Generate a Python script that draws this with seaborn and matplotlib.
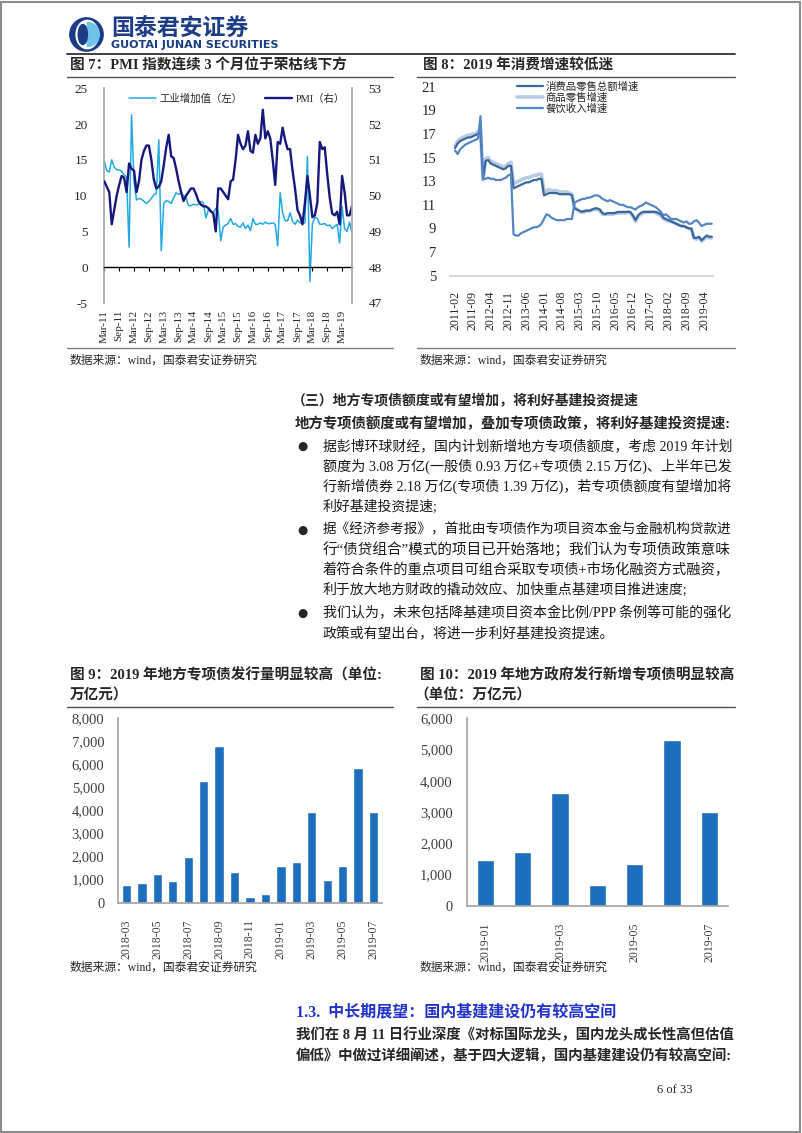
import matplotlib
matplotlib.use("Agg")
import matplotlib.pyplot as plt
import seaborn as sns
from matplotlib.lines import Line2D
from matplotlib.patches import Rectangle, Wedge, Ellipse, Circle
from matplotlib.ticker import FuncFormatter

# ---------------- data ----------------
# Fig 7: monthly, Mar-11 .. Jul-19
fig7_ticklabels = ["Mar-11", "Sep-11", "Mar-12", "Sep-12", "Mar-13", "Sep-13", "Mar-14",
                   "Sep-14", "Mar-15", "Sep-15", "Mar-16", "Sep-16", "Mar-17", "Sep-17",
                   "Mar-18", "Sep-18", "Mar-19"]
industrial_va = [14.8, 13.5, 13.3, 15.0, 14.0, 13.6, 13.6, 13.4, 12.9, 12.6,
                 2.8, 21.3, 11.9, 9.4, 9.6, 9.5, 9.2, 8.9, 9.2, 9.6,
                 10.1, 10.3, 17.8, 2.3, 8.9, 9.3, 9.2, 8.9, 9.7, 10.4,
                 10.2, 10.3, 10.0, 9.7, 8.6, 8.6, 8.8, 8.7, 8.8, 9.2,
                 9.0, 6.9, 8.0, 7.7, 7.6, 8.2, 7.9, 3.7, 5.6, 5.9,
                 6.1, 6.8, 6.0, 6.1, 5.7, 5.6, 6.2, 5.4, 5.9, 5.1,
                 6.8, 6.0, 6.0, 6.2, 6.0, 6.3, 6.1, 6.1, 6.2, 6.0,
                 3.0, 10.4, 7.6, 6.5, 6.5, 7.6, 6.4, 6.0, 6.6, 6.2,
                 6.1, 6.2, 15.5, -2.0, 6.0, 7.0, 6.8, 6.0, 6.0, 6.1,
                 5.8, 5.9, 5.4, 5.7, 6.0, 3.4, 8.5, 5.4, 5.0, 6.3,
                 4.8]
pmi = [50.4, 50.25, 50.1, 49.2, 49.6, 50.0, 50.3, 50.55, 50.5, 50.1,
       50.9, 50.75, 50.7, 50.1, 50.4, 51.0, 51.25, 51.4, 51.4, 51.0,
       50.45, 50.2, 50.25, 50.4, 50.85, 51.35, 51.7, 51.1, 51.05, 50.75,
       50.4, 50.1, 49.85, 50.0, 50.1, 50.2, 50.2, 50.05, 49.85, 49.75,
       49.7, 49.7, 49.65, 49.57, 49.5, 49.0, 50.2, 50.2, 50.1, 50.0,
       49.9, 50.4, 50.45, 51.0, 51.7, 51.45, 51.3, 51.4, 51.8, 51.25,
       51.2, 51.7, 51.45, 51.6, 52.4, 51.6, 51.8, 51.6, 51.0, 50.3,
       51.5, 51.45, 51.9, 51.55, 51.3, 51.3, 50.7, 50.2, 49.6, 49.45,
       49.2, 49.8, 50.55, 50.0, 49.4, 49.45, 49.8, 51.5, 51.3, 51.35,
       50.6, 49.95, 49.5, 49.45, 49.55, 49.2, 50.55, 50.1, 49.45, 49.45,
       49.7]

# Fig 8: monthly, 2011-02 .. 2019-07
fig8_ticklabels = ["2011-02", "2011-09", "2012-04", "2012-11", "2013-06", "2014-01",
                   "2014-08", "2015-03", "2015-10", "2016-05", "2016-12", "2017-07",
                   "2018-02", "2018-09", "2019-04"]
retail_goods = [16.0, 16.4, 16.6, 16.7, 16.8, 16.9, 16.9, 17.0, 17.0, 17.2,
                17.3, 13.1, 14.9, 15.0, 14.7, 14.6, 14.5, 14.4, 14.3, 14.2,
                14.3, 14.5, 14.6, 12.8, 12.9, 13.0, 13.1, 13.2, 13.3, 13.3,
                13.4, 13.5, 13.5, 13.6, 13.6, 12.1, 12.2, 12.3, 12.2, 12.2,
                12.2, 12.1, 12.1, 12.1, 12.1, 12.0, 11.9, 10.8, 10.6, 10.4,
                10.4, 10.4, 10.5, 10.5, 10.6, 10.6, 10.6, 10.5, 10.2, 10.2,
                10.2, 10.2, 10.2, 10.3, 10.3, 10.3, 10.3, 10.3, 10.4, 10.3,
                10.0, 9.6, 10.0, 10.2, 10.3, 10.4, 10.4, 10.4, 10.4, 10.3,
                10.2, 10.1, 9.8, 9.7, 9.6, 9.6, 9.5, 9.4, 9.3, 9.2,
                9.2, 9.1, 9.0, 8.9, 8.2, 8.1, 8.2, 7.9, 8.1, 8.3,
                8.2, 8.2]
retail_total = [15.8, 16.2, 16.4, 16.5, 16.6, 16.7, 16.7, 16.8, 16.9, 17.0,
                17.1, 13.2, 14.7, 14.8, 14.5, 14.4, 14.3, 14.2, 14.1, 14.0,
                14.1, 14.3, 14.3, 12.4, 12.5, 12.6, 12.7, 12.8, 12.9, 12.9,
                13.0, 13.1, 13.1, 13.2, 13.2, 11.8, 11.9, 12.0, 12.0, 12.0,
                12.0, 11.9, 11.9, 11.9, 11.9, 11.9, 11.8, 10.7, 10.6, 10.5,
                10.4, 10.5, 10.5, 10.5, 10.6, 10.7, 10.7, 10.6, 10.3, 10.2,
                10.3, 10.3, 10.3, 10.3, 10.4, 10.4, 10.4, 10.4, 10.4, 10.4,
                10.1, 9.7, 10.1, 10.3, 10.4, 10.4, 10.4, 10.4, 10.4, 10.4,
                10.3, 10.2, 9.9, 9.8, 9.7, 9.6, 9.5, 9.4, 9.3, 9.2,
                9.2, 9.1, 9.0, 9.0, 8.2, 8.2, 8.3, 8.0, 8.2, 8.4,
                8.3, 8.3]
catering = [15.6, 15.3, 15.7, 15.9, 16.1, 16.2, 16.3, 16.4, 16.5, 16.6,
            18.5, 13.2, 13.2, 13.3, 13.2, 13.2, 13.1, 13.1, 13.1, 13.2,
            13.3, 13.5, 13.6, 8.5, 8.4, 8.4, 8.6, 8.7, 8.8, 8.9,
            9.0, 9.1, 9.1, 9.2, 9.4, 9.8, 10.2, 10.1, 9.9, 9.8,
            9.7, 9.7, 9.7, 9.7, 9.8, 9.8, 9.8, 11.2, 11.3, 11.4,
            11.5, 11.5, 11.6, 11.6, 11.7, 11.8, 11.8, 11.7, 11.5, 11.4,
            11.3, 11.4, 11.3, 11.2, 11.1, 11.0, 11.0, 10.9, 10.8, 10.8,
            10.7, 10.6, 10.8, 10.9, 11.0, 11.2, 11.1, 11.0, 10.9, 10.8,
            10.6, 10.4, 10.1, 10.2, 10.0, 9.8, 9.8, 9.8, 9.7, 9.6,
            9.5, 9.6, 9.4, 9.4, 9.6, 9.7, 9.5, 9.2, 9.3, 9.4,
            9.4, 9.4]

# Fig 9
fig9_months = ["2018-03", "2018-04", "2018-05", "2018-06", "2018-07", "2018-08",
               "2018-09", "2018-10", "2018-11", "2018-12", "2019-01", "2019-02",
               "2019-03", "2019-04", "2019-05", "2019-06", "2019-07"]
special_bonds = [770, 840, 1230, 940, 1980, 5300, 6790, 1320, 230, 390,
                 1580, 1750, 3940, 970, 1610, 5850, 3950]
# Fig 10
fig10_months = ["2019-01", "2019-02", "2019-03", "2019-04", "2019-05", "2019-06", "2019-07"]
new_special_bonds = [1450, 1710, 3620, 670, 1340, 5290, 3010]

# ---------------- style ----------------
sns.set_theme(style="white")
FONTS = ['Liberation Serif', 'Noto Sans CJK SC', 'DejaVu Sans']
plt.rcParams['font.family'] = FONTS
plt.rcParams['axes.unicode_minus'] = False

C_IVA = "#22A9E2"
C_PMI = "#16187E"
C_TOT = "#3A679C"
C_GOO = "#B9CCE6"
C_CAT = "#5286C4"
C_BAR = "#1E6EBE"
C_AX = "#A6A6A6"
NAVY = "#1C3C86"

W, H = 802, 1133
fig = plt.figure(figsize=(W / 100, H / 100), dpi=100)
renderer = fig.canvas.get_renderer()


def box(x0, y0, x1, y1):
    return [x0 / W, 1 - y1 / H, (x1 - x0) / W, (y1 - y0) / H]


def ftext(x, y, s, **kw):
    kw.setdefault('va', 'center')
    kw.setdefault('ha', 'left')
    return fig.text(x / W, 1 - y / H, s, **kw)


def fit_text(x, y, s, width, size, **kw):
    """Left-aligned text scaled to fill a justified line width (pixels)."""
    t = ftext(x, y, s, fontsize=size, **kw)
    w = t.get_window_extent(renderer).width
    t.set_fontsize(size * width / w)
    return t


def hrule(x0, x1, y, color="#404040", lw=1.0):
    fig.add_artist(Line2D([x0 / W, x1 / W], [1 - y / H, 1 - y / H], color=color,
                          lw=lw, transform=fig.transFigure))


# page border
fig.add_artist(Rectangle((0.001, 0.001), 0.997, 0.997, transform=fig.transFigure,
                         fill=False, edgecolor="#8C8C8C", lw=1.5))

# ---------------- header ----------------
axl = fig.add_axes(box(69, 17, 104, 52))
axl.set_xlim(-1.05, 1.05)
axl.set_ylim(-1.05, 1.05)
axl.set_aspect('equal')
axl.axis('off')
axl.add_patch(Circle((0, 0), 1.0, color=NAVY))
axl.add_patch(Ellipse((0.05, 0), 1.35, 1.7, color="white"))
axl.add_patch(Wedge((0.05, 0), 0.72, -90, 90, color="#6EC3E8"))
axl.add_patch(Ellipse((-0.22, 0), 0.55, 1.2, color=NAVY))
ftext(111, 30, "国泰君安证券", fontsize=16.5, fontweight='bold', color=NAVY)
fit_text(111, 45.5, "GUOTAI JUNAN SECURITIES", 168, 6.5, fontweight='bold', color=NAVY,
         family=['DejaVu Sans'])
hrule(67, 735, 53.5, color="#303030", lw=1.3)

# ---------------- Fig 7 ----------------
ftext(70, 66, "图 7：PMI 指数连续 3 个月位于荣枯线下方", fontsize=10.5, fontweight='bold')
hrule(67, 393, 76.7, color="#505050", lw=1.0)
hrule(67, 393, 348.3, color="#808080", lw=1.0)
ftext(70, 361, "数据来源：wind，国泰君安证券研究", fontsize=8.5)

months7 = list(range(len(pmi)))
ax7 = fig.add_axes(box(104.3, 88.3, 352, 303))
sns.lineplot(x=months7, y=industrial_va, ax=ax7, color=C_IVA, lw=1.1, legend=False)
ax7b = ax7.twinx()
sns.lineplot(x=months7, y=pmi, ax=ax7b, color=C_PMI, lw=1.7, legend=False)
ax7.set_xlim(0, 100)
ax7.set_ylim(-5, 25)
ax7b.set_ylim(47, 53)
ax7.set_yticks(range(-5, 26, 5))
ax7b.set_yticks(range(47, 54))
for a in (ax7, ax7b):
    a.set_xlabel("")
    a.set_ylabel("")
    a.spines['top'].set_visible(False)
ax7.spines['right'].set_visible(False)
ax7b.spines['left'].set_visible(False)
ax7b.spines['bottom'].set_visible(False)
ax7.spines['left'].set_color(C_AX)
ax7b.spines['right'].set_color(C_AX)
ax7.spines['bottom'].set_position(('data', 0))
ax7.spines['bottom'].set_color('black')
ax7.spines['bottom'].set_linewidth(1.0)
ax7.set_xticks(range(0, 97, 6))
ax7.tick_params(axis='x', bottom=True, length=3, width=0.8, direction='out',
                color='black', labelbottom=False)
ax7.tick_params(axis='y', left=False, labelsize=9.5, pad=6)
ax7b.tick_params(axis='y', right=False, labelsize=9.5, pad=6)
sec7 = ax7.secondary_xaxis('bottom')
sec7.set_xticks(range(0, 97, 6))
sec7.set_xticklabels(fig7_ticklabels, rotation=90, fontsize=8)
sec7.tick_params(length=0, pad=5)
sec7.spines['bottom'].set_visible(False)
h7 = [ax7.get_lines()[0], ax7b.get_lines()[0]]
ax7b.legend(h7, ["工业增加值（左）", "PMI（右）"], ncol=2, frameon=False,
            loc='upper left', bbox_to_anchor=(0.1, 0.975), borderaxespad=0, borderpad=0,
            handlelength=2.6, handletextpad=0.3, columnspacing=2.2, fontsize=7.5)

# ---------------- Fig 8 ----------------
ftext(423, 66, "图 8：2019 年消费增速较低迷", fontsize=10.5, fontweight='bold')
hrule(417, 735, 76.7, color="#505050", lw=1.0)
hrule(417, 735, 348.3, color="#808080", lw=1.0)
ftext(420, 361, "数据来源：wind，国泰君安证券研究", fontsize=8.5)

months8 = list(range(len(retail_total)))
ax8 = fig.add_axes(box(450, 86.7, 713, 275.7))
sns.lineplot(x=months8, y=retail_goods, ax=ax8, color=C_GOO, lw=2.6, legend=False)
sns.lineplot(x=months8, y=retail_total, ax=ax8, color=C_TOT, lw=1.6, legend=False)
sns.lineplot(x=months8, y=catering, ax=ax8, color=C_CAT, lw=1.6, legend=False)
ax8.set_xlim(-2, 101.5)
ax8.set_ylim(5, 21)
ax8.set_yticks(range(5, 22, 2))
ax8.set_xticks(range(0, 99, 7))
ax8.set_xticklabels(fig8_ticklabels, rotation=90, fontsize=8.5)
ax8.tick_params(axis='y', left=False, labelsize=10.5, pad=4)
ax8.tick_params(axis='x', bottom=False, pad=5)
ax8.set_xlabel("")
ax8.set_ylabel("")
for s in ('top', 'right', 'left'):
    ax8.spines[s].set_visible(False)
ax8.spines['bottom'].set_color("#D9D9D9")
ax8.spines['bottom'].set_linewidth(1.5)
l8 = ax8.get_lines()
ax8.legend([l8[1], l8[0], l8[2]], ["消费品零售总额增速", "商品零售增速", "餐饮收入增速"],
           frameon=False, loc='upper left', bbox_to_anchor=(0.255, 1.03),
           borderaxespad=0, borderpad=0, handlelength=2.5, handletextpad=0.25,
           labelspacing=0.05, fontsize=7.5)

# ---------------- middle text ----------------
ftext(292, 401.7, "（三）地方专项债额度或有望增加，将利好基建投资提速", fontsize=10, fontweight='bold')
fit_text(295, 423.3, "地方专项债额度或有望增加，叠加专项债政策，将利好基建投资提速:",
         437, 10.1, fontweight='bold')
bullets = [
    (446.7, True, True, "据彭博环球财经，国内计划新增地方专项债额度，考虑 2019 年计划"),
    (466.7, False, True, "额度为 3.08 万亿(一般债 0.93 万亿+专项债 2.15 万亿)、上半年已发"),
    (486.7, False, True, "行新增债券 2.18 万亿(专项债 1.39 万亿)，若专项债额度有望增加将"),
    (506.7, False, False, "利好基建投资提速;"),
    (530.0, True, True, "据《经济参考报》，首批由专项债作为项目资本金与金融机构贷款进"),
    (550.0, False, True, "行“债贷组合”模式的项目已开始落地；我们认为专项债政策意味"),
    (570.0, False, True, "着符合条件的重点项目可组合采取专项债+市场化融资方式融资，"),
    (590.0, False, False, "利于放大地方财政的撬动效应、加快重点基建项目推进速度;"),
    (613.3, True, True, "我们认为，未来包括降基建项目资本金比例/PPP 条例等可能的强化"),
    (633.3, False, False, "政策或有望出台，将进一步利好基建投资提速。"),
]
for y, dot, full, s in bullets:
    if dot:
        ftext(297, y, "●", fontsize=8.5, family=['DejaVu Sans'])
    if full:
        fit_text(323, y, s, 408, 10, color="#1a1a1a")
    else:
        ftext(323, y, s, fontsize=10, color="#1a1a1a")

# ---------------- Fig 9 ----------------
ftext(70, 675, "图 9：2019 年地方专项债发行量明显较高（单位:", fontsize=10.5, fontweight='bold')
ftext(70, 695, "万亿元）", fontsize=10.5, fontweight='bold')
hrule(67, 393, 706.7, color="#505050", lw=1.0)
ftext(70, 968, "数据来源：wind，国泰君安证券研究", fontsize=8.5)

ax9 = fig.add_axes(box(118.3, 718.3, 381.7, 902.7))
sns.barplot(x=fig9_months, y=special_bonds, ax=ax9, color=C_BAR, saturation=1, width=0.6)
ax9.set_xlim(-0.53, 16.53)
ax9.set_ylim(0, 8000)
ax9.set_yticks(range(0, 8001, 1000))
ax9.yaxis.set_major_formatter(FuncFormatter(lambda v, p: f"{v:,.0f}"))
ax9.set_xticks(range(0, 17, 2))
ax9.set_xticklabels(fig9_months[::2], rotation=90, fontsize=8.5)

# ---------------- Fig 10 ----------------
ftext(420, 675, "图 10：2019 年地方政府发行新增专项债明显较高", fontsize=10.5, fontweight='bold')
ftext(414, 695, "（单位：万亿元）", fontsize=10.5, fontweight='bold')
hrule(417, 735, 706.7, color="#505050", lw=1.0)
ftext(420, 968, "数据来源：wind，国泰君安证券研究", fontsize=8.5)

ax10 = fig.add_axes(box(466.7, 718.3, 728, 905.7))
sns.barplot(x=fig10_months, y=new_special_bonds, ax=ax10, color=C_BAR, saturation=1, width=0.46)
ax10.set_xlim(-0.5, 6.5)
ax10.set_ylim(0, 6000)
ax10.set_yticks(range(0, 6001, 1000))
ax10.yaxis.set_major_formatter(FuncFormatter(lambda v, p: f"{v:,.0f}"))
ax10.set_xticks(range(0, 7, 2))
ax10.set_xticklabels(fig10_months[::2], rotation=90, fontsize=8.5)

for a in (ax9, ax10):
    a.set_xlabel("")
    a.set_ylabel("")
    a.spines['top'].set_visible(False)
    a.spines['right'].set_visible(False)
    a.spines['left'].set_color(C_AX)
    a.spines['bottom'].set_color(C_AX)
    a.tick_params(axis='y', left=False, labelsize=10.5, pad=4, labelcolor="#404040")
    a.tick_params(axis='x', bottom=False, pad=6, labelcolor="#404040")

# ---------------- bottom section ----------------
ftext(296, 1012.5, "1.3.  中长期展望：国内基建建设仍有较高空间", fontsize=11.5,
      fontweight='bold', color="#2233CC")
fit_text(296, 1035, "我们在 8 月 11 日行业深度《对标国际龙头，国内龙头成长性高但估值",
         436, 10.4, fontweight='bold')
fit_text(296, 1055.7, "偏低》中做过详细阐述，基于四大逻辑，国内基建建设仍有较高空间:",
         436, 10.4, fontweight='bold')
ftext(675, 1090, "6 of 33", fontsize=9, ha='center')

fig.savefig("out.png", dpi=100)
